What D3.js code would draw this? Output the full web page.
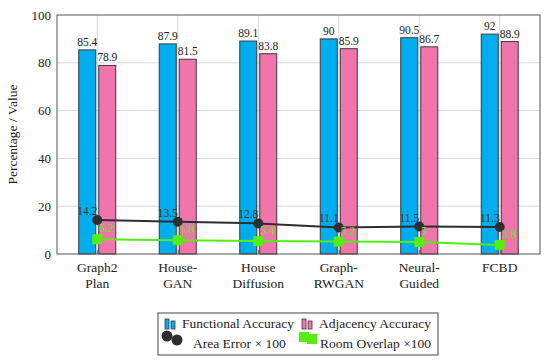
<!DOCTYPE html>
<html>
<head>
<meta charset="utf-8">
<script src="https://cdn.jsdelivr.net/npm/d3@7"></script>
</head>
<body style="margin:0; background:#fff">
<div id="chart"></div>
<script>

// DATA
var categories = [['Graph2', 'Plan'], ['House-', 'GAN'], ['House', 'Diffusion'], ['Graph-', 'RWGAN'], ['Neural-', 'Guided'], ['FCBD']];
var functional = [85.4, 87.9, 89.1, 90, 90.5, 92];
var adjacency = [78.9, 81.5, 83.8, 85.9, 86.7, 88.9];
var areaError = [14.2, 13.5, 12.8, 11.1, 11.5, 11.3];
var roomOverlap = [6.2, 5.8, 5.4, 5.2, 5, 3.8];
var yTicks = [0, 20, 40, 60, 80, 100];

// SETTINGS
var settings = {
   width: 550,
   height: 363,
   margin: { left: 57, right: 10, top: 15, bottom: 109 },
   font: "'Liberation Serif', 'DejaVu Serif', serif",
   blue: '#00aeef',
   pink: '#f075ab',
   dark: '#2e2e2e',
   green: '#55ee11',
   outline: '#3a3a3a',
   barWidth: 17,
   barShift: 10
};

var plotW = settings.width - settings.margin.left - settings.margin.right;
var plotH = settings.height - settings.margin.top - settings.margin.bottom;

// CANVAS
var svg = d3.select('#chart').append('svg')
   .attr('width', settings.width)
   .attr('height', settings.height)
   .style('font-family', settings.font)

var canvas = svg.append('g')
   .attr('transform', 'translate(' + settings.margin.left + ',' + settings.margin.top + ')')

// X-SCALING
var xScale = d3.scalePoint()
   .domain(d3.range(categories.length))
   .range([0, plotW])
   .padding(0.5)

// Y-SCALING
var yScale = d3.scaleLinear()
   .domain([0, 100])
   .range([plotH, 0])

// GRID LINES
canvas.append('g')
   .selectAll('line')
   .data(yTicks.slice(1, -1))
   .enter().append('line')
      .attr('x1', 0)
      .attr('x2', plotW)
      .attr('y1', d => yScale(d))
      .attr('y2', d => yScale(d))
      .attr('stroke', '#cfcfcf')
      .attr('stroke-width', 0.8)

canvas.append('g')
   .selectAll('line')
   .data(d3.range(categories.length))
   .enter().append('line')
      .attr('x1', d => xScale(d))
      .attr('x2', d => xScale(d))
      .attr('y1', 0)
      .attr('y2', plotH)
      .attr('stroke', '#cfcfcf')
      .attr('stroke-width', 0.8)

// BARS
var barSeries = [
   { values: functional, color: settings.blue, shift: -settings.barShift },
   { values: adjacency, color: settings.pink, shift: settings.barShift }
];

barSeries.forEach(series => {

   // ADD RECTS
   canvas.append('g')
      .selectAll('rect')
      .data(series.values)
      .enter().append('rect')
         .attr('x', (d, i) => xScale(i) + series.shift - settings.barWidth / 2)
         .attr('y', d => yScale(d))
         .attr('width', settings.barWidth)
         .attr('height', d => plotH - yScale(d))
         .attr('fill', series.color)
         .attr('stroke', settings.outline)
         .attr('stroke-width', 1)

   // ADD VALUE LABELS
   canvas.append('g')
      .selectAll('text')
      .data(series.values)
      .enter().append('text')
         .attr('x', (d, i) => xScale(i) + series.shift)
         .attr('y', d => yScale(d) - 4)
         .attr('text-anchor', 'middle')
         .attr('font-size', 11.5)
         .attr('fill', '#222')
         .text(d => d)
});

// LINE GENERATOR
var lineify = d3.line()
   .x((d, i) => xScale(i))
   .y(d => yScale(d))

// AREA ERROR LINE
canvas.append('path')
   .attr('d', lineify(areaError))
   .attr('fill', 'none')
   .attr('stroke', settings.dark)
   .attr('stroke-width', 2)

canvas.append('g')
   .selectAll('circle')
   .data(areaError)
   .enter().append('circle')
      .attr('cx', (d, i) => xScale(i))
      .attr('cy', d => yScale(d))
      .attr('r', 5)
      .attr('fill', settings.dark)

canvas.append('g')
   .selectAll('text')
   .data(areaError)
   .enter().append('text')
      .attr('x', (d, i) => xScale(i))
      .attr('y', d => yScale(d) - 5)
      .attr('text-anchor', 'end')
      .attr('font-size', 11.5)
      .attr('fill', '#333')
      .text(d => d)

// ROOM OVERLAP LINE
canvas.append('path')
   .attr('d', lineify(roomOverlap))
   .attr('fill', 'none')
   .attr('stroke', settings.green)
   .attr('stroke-width', 2)

canvas.append('g')
   .selectAll('rect')
   .data(roomOverlap)
   .enter().append('rect')
      .attr('x', (d, i) => xScale(i) - 5)
      .attr('y', d => yScale(d) - 5)
      .attr('width', 10)
      .attr('height', 10)
      .attr('fill', settings.green)

canvas.append('g')
   .selectAll('text')
   .data(roomOverlap)
   .enter().append('text')
      .attr('x', (d, i) => xScale(i) + 2)
      .attr('y', d => yScale(d) - 7)
      .attr('text-anchor', 'start')
      .attr('font-size', 11.5)
      .attr('fill', settings.green)
      .text(d => d)

// FRAME
canvas.append('rect')
   .attr('width', plotW)
   .attr('height', plotH)
   .attr('fill', 'none')
   .attr('stroke', '#555')
   .attr('stroke-width', 1)

// Y-AXIS
var yAxis = canvas.append('g')
   .call(d3.axisLeft(yScale).tickValues(yTicks).tickSize(0).tickPadding(6))
   .attr('font-family', null)

yAxis.select('.domain').remove()
yAxis.selectAll('text')
   .attr('font-size', 13)
   .attr('fill', '#222')
   .style('font-family', settings.font)

// X-AXIS
var xAxis = canvas.append('g')
   .attr('transform', 'translate(0,' + plotH + ')')
   .call(d3.axisBottom(xScale).tickSize(4).tickFormat(''))

xAxis.select('.domain').remove()
xAxis.selectAll('line').attr('stroke', '#555').attr('y1', -4).attr('y2', 0)

// X TICK LABELS
var xLabels = canvas.append('g')
   .selectAll('text')
   .data(categories)
   .enter().append('text')
      .attr('x', (d, i) => xScale(i))
      .attr('y', plotH + 18)
      .attr('text-anchor', 'middle')
      .attr('font-size', 13.5)
      .attr('fill', '#222')

xLabels.selectAll('tspan')
   .data(d => d)
   .enter().append('tspan')
      .attr('x', function() { return d3.select(this.parentNode).attr('x') })
      .attr('dy', (d, i) => i == 0 ? 0 : 15.5)
      .text(d => d)

// Y-AXIS TITLE
svg.append('text')
   .attr('transform', 'translate(17,' + (settings.margin.top + plotH / 2) + ') rotate(-90)')
   .attr('text-anchor', 'middle')
   .attr('font-size', 13.5)
   .attr('fill', '#222')
   .text('Percentage / Value')

// LEGEND
var legend = svg.append('g').attr('transform', 'translate(158,313)')

legend.append('rect')
   .attr('width', 280)
   .attr('height', 42)
   .attr('fill', '#fff')
   .attr('stroke', '#444')
   .attr('stroke-width', 1)

// LEGEND BAR ICONS
var barIcons = [
   { x: 7, color: settings.blue, label: 'Functional Accuracy', tx: 24 },
   { x: 144, color: settings.pink, label: 'Adjacency Accuracy', tx: 161 }
];

barIcons.forEach(item => {
   [0, 6].forEach(dx => {
      legend.append('rect')
         .attr('x', item.x + dx)
         .attr('y', dx == 0 ? 6 : 8)
         .attr('width', 4)
         .attr('height', dx == 0 ? 10 : 8)
         .attr('fill', item.color)
         .attr('stroke', settings.outline)
         .attr('stroke-width', 0.8)
   });
   legend.append('text')
      .attr('x', item.tx)
      .attr('y', 15)
      .attr('font-size', 13.5)
      .attr('fill', '#222')
      .text(item.label)
});

// LEGEND LINE ICONS
[9, 19].forEach((dx, i) => {
   legend.append('circle')
      .attr('cx', dx)
      .attr('cy', i == 0 ? 23 : 27)
      .attr('r', 5.5)
      .attr('fill', settings.dark)
});

[146, 154].forEach((dx, i) => {
   legend.append('rect')
      .attr('x', dx - 5)
      .attr('y', i == 0 ? 19 : 21)
      .attr('width', 10)
      .attr('height', 10)
      .attr('fill', settings.green)
});

legend.append('text')
   .attr('x', 35)
   .attr('y', 35)
   .attr('font-size', 13.5)
   .attr('fill', '#222')
   .text('Area Error \u00d7 100')

legend.append('text')
   .attr('x', 162)
   .attr('y', 35)
   .attr('font-size', 13.5)
   .attr('fill', '#222')
   .text('Room Overlap \u00d7100')

</script>
</body>
</html>
